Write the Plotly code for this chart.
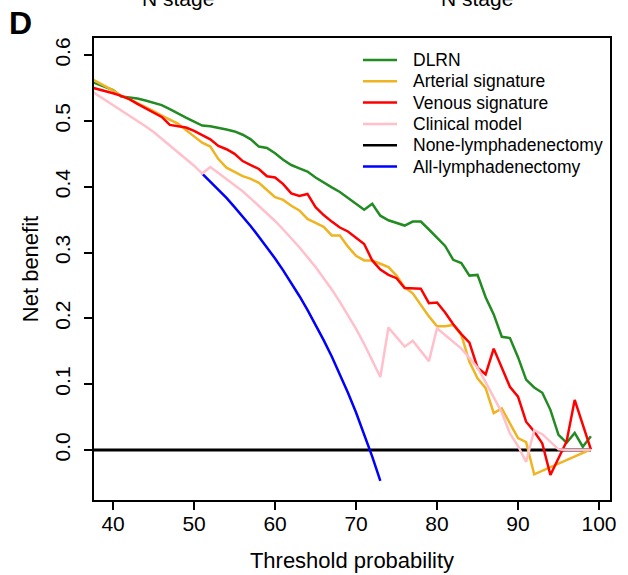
import plotly.graph_objects as go

thr = list(range(37, 100))

dlrn = [0.561, 0.556, 0.552, 0.547, 0.537, 0.536, 0.534, 0.531, 0.528, 0.524,
        0.518, 0.511, 0.505, 0.499, 0.493, 0.492, 0.490, 0.487, 0.484, 0.479,
        0.472, 0.461, 0.459, 0.451, 0.441, 0.433, 0.428, 0.423, 0.414, 0.406,
        0.399, 0.392, 0.383, 0.375, 0.365, 0.374, 0.356, 0.349, 0.345, 0.341,
        0.347, 0.347, 0.335, 0.323, 0.310, 0.289, 0.284, 0.265, 0.266, 0.232,
        0.206, 0.172, 0.170, 0.141, 0.107, 0.095, 0.087, 0.061, 0.023, 0.011,
        0.026, 0.005, 0.021]

arterial = [0.566, 0.560, 0.553, 0.546, 0.538, 0.533, 0.527, 0.522, 0.515, 0.508,
            0.502, 0.496, 0.486, 0.476, 0.467, 0.461, 0.442, 0.429, 0.422, 0.416,
            0.412, 0.406, 0.395, 0.384, 0.380, 0.371, 0.364, 0.351, 0.345, 0.339,
            0.326, 0.326, 0.309, 0.295, 0.288, 0.288, 0.283, 0.278, 0.265, 0.247,
            0.238, 0.220, 0.203, 0.188, 0.188, 0.190, 0.175, 0.134, 0.109, 0.094,
            0.056, 0.063, 0.041, 0.018, 0.012, -0.037, None, None, None, None,
            None, None, 0.001]

venous = [0.552, 0.549, 0.546, 0.542, 0.538, 0.533, 0.526, 0.519, 0.512, 0.506,
          0.494, 0.492, 0.490, 0.485, 0.479, 0.472, 0.462, 0.457, 0.450, 0.439,
          0.433, 0.427, 0.416, 0.414, 0.404, 0.390, 0.386, 0.389, 0.369, 0.357,
          0.347, 0.338, 0.332, 0.322, 0.313, 0.288, 0.274, 0.266, 0.261, 0.246,
          0.245, 0.245, 0.223, 0.224, 0.209, 0.191, 0.176, 0.163, 0.125, 0.115,
          0.154, 0.124, 0.096, 0.081, 0.043, 0.028, 0.010, -0.038, -0.013, 0.013,
          0.076, 0.038, 0.001]

clinical = [0.548, 0.540, 0.533, 0.525, 0.517, 0.509, 0.501, 0.492, 0.483, 0.473,
            0.463, 0.453, 0.443, 0.432, 0.420, 0.430, 0.421, 0.412, 0.403, 0.393,
            0.382, 0.371, 0.360, 0.348, 0.335, 0.322, 0.308, 0.293, 0.278, 0.261,
            0.244, 0.225, 0.205, 0.184, 0.161, 0.137, 0.111, 0.186, 0.171, 0.157,
            0.166, 0.150, 0.135, 0.185, 0.175, 0.165, 0.154, 0.140, 0.125, 0.103,
            0.080, 0.057, 0.025, 0.006, -0.018, 0.030, 0.024, 0.013, 0.001, 0.0,
            0.0, 0.0, 0.0]

none_lnd = [0.0] * 63

all_lnd = ([None] * 14 +
           [0.420, 0.408, 0.396, 0.383, 0.369, 0.355, 0.340, 0.324, 0.308, 0.291,
            0.273, 0.254, 0.234, 0.213, 0.191, 0.167, 0.142, 0.115, 0.087, 0.057,
            0.025, -0.010, -0.047] +
           [None] * 26)

x_ticks = [40, 50, 60, 70, 80, 90, 100]
y_ticks = [0.0, 0.1, 0.2, 0.3, 0.4, 0.5, 0.6]
y_ticktext = ["0.0", "0.1", "0.2", "0.3", "0.4", "0.5", "0.6"]

legend_names = ["DLRN", "Arterial signature", "Venous signature", "Clinical model",
                "None-lymphadenectomy", "All-lymphadenectomy"]
legend_colors = ["#228B22", "#EEB422", "#FF0000", "#FFC0CB", "#000000", "#0000FF"]

FONT = "Liberation Sans, Arial, Helvetica, sans-serif"

# drawing order (back to front)
series = [
    ("None-lymphadenectomy", none_lnd, "#000000", 3.0),
    ("All-lymphadenectomy", all_lnd, "#0000FF", 2.5),
    ("DLRN", dlrn, "#228B22", 2.5),
    ("Arterial signature", arterial, "#EEB422", 2.5),
    ("Venous signature", venous, "#FF0000", 2.5),
    ("Clinical model", clinical, "#FFC0CB", 2.5),
]

fig = go.Figure()
for name, vals, col, w in series:
    fig.add_trace(go.Scatter(x=thr, y=vals, mode="lines", name=name,
                             line=dict(color=col, width=w),
                             connectgaps=True, showlegend=False))

# plot area in pixels
L, R, T, B = 94, 610, 38, 500
W, H = R - L, B - T


def px(xp):
    return (xp - L) / W


def py(yp):
    return (B - yp) / H


shapes = []
annotations = []
row0, row_step = 60, 21.3
for i, (nm, col) in enumerate(zip(legend_names, legend_colors)):
    yy = py(row0 + i * row_step)
    shapes.append(dict(type="line", xref="paper", yref="paper",
                       x0=px(363), x1=px(397), y0=yy, y1=yy,
                       line=dict(color=col, width=2.5)))
    annotations.append(dict(text=nm, xref="paper", yref="paper", x=px(411), y=yy,
                            xanchor="left", yanchor="middle", showarrow=False,
                            font=dict(size=17.5, family=FONT, color="black")))

annotations += [
    dict(text="<b>D</b>", xref="paper", yref="paper", x=px(7), y=py(3),
         xanchor="left", yanchor="top", showarrow=False,
         font=dict(size=32, family=FONT)),
    dict(text="N stage", xref="paper", yref="paper", x=px(178), y=py(12),
         xanchor="center", yanchor="bottom", showarrow=False,
         font=dict(size=21, family=FONT)),
    dict(text="N stage", xref="paper", yref="paper", x=px(477), y=py(12),
         xanchor="center", yanchor="bottom", showarrow=False,
         font=dict(size=21, family=FONT)),
]

fig.update_layout(
    width=628, height=575,
    margin=dict(l=L, r=628 - R, t=T, b=575 - B),
    paper_bgcolor="white", plot_bgcolor="white",
    font=dict(family=FONT, color="black"),
    showlegend=False,
    xaxis=dict(range=[37.64, 101.36], tickvals=x_ticks, ticks="outside",
               ticklen=8, tickwidth=1.5, tickcolor="black",
               showline=True, mirror=True, linewidth=2, linecolor="black",
               showgrid=False, zeroline=False, automargin=False,
               ticklabelstandoff=-4,
               tickfont=dict(size=21, family=FONT),
               title=dict(text="Threshold probability", font=dict(size=22, family=FONT),
                          standoff=18)),
    yaxis=dict(range=[-0.076, 0.626], tickvals=y_ticks, ticktext=y_ticktext,
               tickangle=-90, ticks="outside",
               ticklen=8, tickwidth=1.5, tickcolor="black",
               showline=True, mirror=True, linewidth=2, linecolor="black",
               showgrid=False, zeroline=False, automargin=False,
               ticklabelstandoff=6,
               tickfont=dict(size=21, family=FONT),
               title=dict(text="Net benefit", font=dict(size=22, family=FONT),
                          standoff=6)),
    shapes=shapes,
    annotations=annotations,
)

fig.write_html("out.html")
